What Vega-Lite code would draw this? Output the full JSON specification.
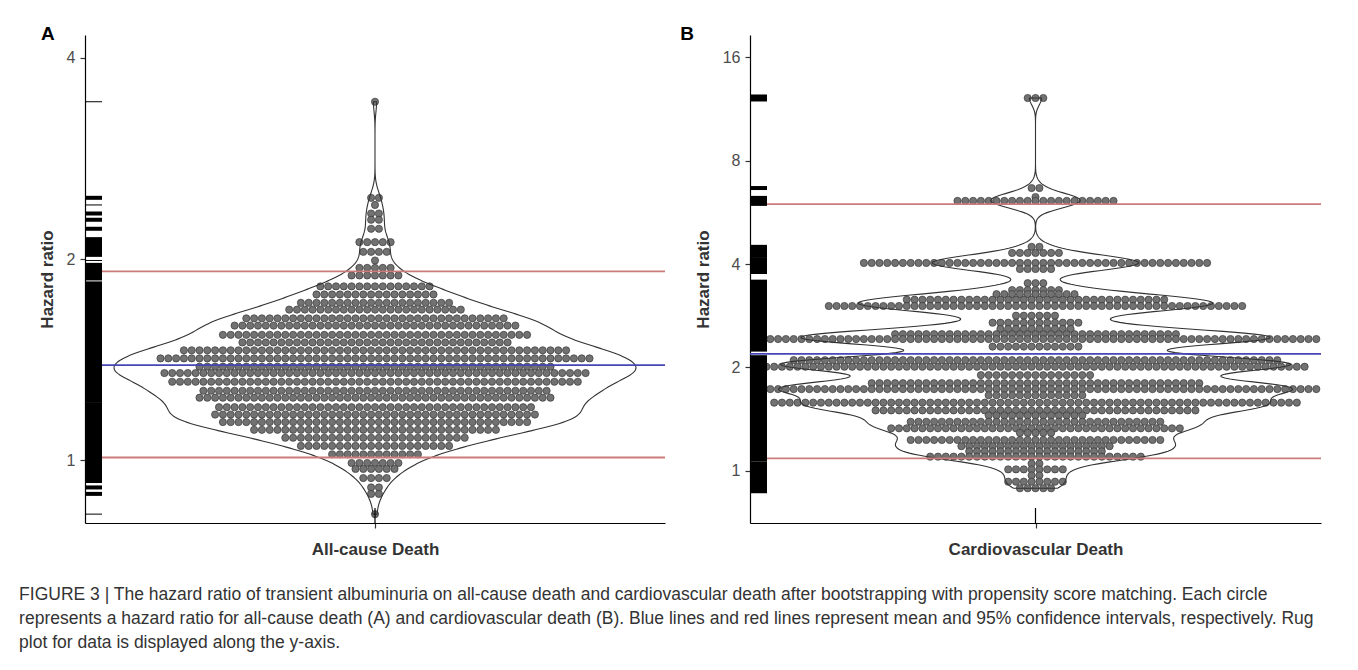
{
"$schema": "https://vega.github.io/schema/vega-lite/v6.json",
"padding": {"left": 19, "top": 25, "right": 5, "bottom": 5},
"datasets": {
"A": [3.44,2.47,2.47,2.41,2.34,2.34,2.29,2.29,2.22,2.22,
2.12,2.12,2.12,2.12,2.12,2.05,2.05,2.05,2.05,1.99,
1.94,1.94,1.94,1.94,1.94,1.89,1.89,1.89,1.89,1.89,1.89,1.89,
1.82,1.82,1.82,1.82,1.82,1.82,1.82,1.82,1.82,1.82,1.82,1.82,1.82,1.82,1.82,
1.77,1.77,1.77,1.77,1.77,1.77,1.77,1.77,1.77,1.77,1.77,1.77,1.77,1.77,1.77,1.77,
1.72,1.72,1.72,1.72,1.72,1.72,1.72,1.72,1.72,1.72,1.72,1.72,1.72,1.72,1.72,1.72,1.72,1.72,1.72,1.72,
1.68,1.68,1.68,1.68,1.68,1.68,1.68,1.68,1.68,1.68,1.68,1.68,1.68,1.68,1.68,1.68,1.68,1.68,1.68,1.68,1.68,1.68,1.68,
1.63,1.63,1.63,1.63,1.63,1.63,1.63,1.63,1.63,1.63,1.63,1.63,1.63,1.63,1.63,1.63,1.63,1.63,1.63,1.63,1.63,1.63,1.63,1.63,1.63,1.63,1.63,1.63,1.63,1.63,1.63,1.63,1.63,1.63,
1.59,1.59,1.59,1.59,1.59,1.59,1.59,1.59,1.59,1.59,1.59,1.59,1.59,1.59,1.59,1.59,1.59,1.59,1.59,1.59,1.59,1.59,1.59,1.59,1.59,1.59,1.59,1.59,1.59,1.59,1.59,1.59,1.59,1.59,1.59,1.59,1.59,
1.54,1.54,1.54,1.54,1.54,1.54,1.54,1.54,1.54,1.54,1.54,1.54,1.54,1.54,1.54,1.54,1.54,1.54,1.54,1.54,1.54,1.54,1.54,1.54,1.54,1.54,1.54,1.54,1.54,1.54,1.54,1.54,1.54,1.54,1.54,1.54,1.54,1.54,1.54,1.54,
1.5,1.5,1.5,1.5,1.5,1.5,1.5,1.5,1.5,1.5,1.5,1.5,1.5,1.5,1.5,1.5,1.5,1.5,1.5,1.5,1.5,1.5,1.5,1.5,1.5,1.5,1.5,1.5,1.5,1.5,1.5,1.5,1.5,1.5,1.5,
1.46,1.46,1.46,1.46,1.46,1.46,1.46,1.46,1.46,1.46,1.46,1.46,1.46,1.46,1.46,1.46,1.46,1.46,1.46,1.46,1.46,1.46,1.46,1.46,1.46,1.46,1.46,1.46,1.46,1.46,1.46,1.46,1.46,1.46,1.46,1.46,1.46,1.46,1.46,1.46,1.46,1.46,1.46,1.46,1.46,1.46,1.46,1.46,1.46,1.46,
1.42,1.42,1.42,1.42,1.42,1.42,1.42,1.42,1.42,1.42,1.42,1.42,1.42,1.42,1.42,1.42,1.42,1.42,1.42,1.42,1.42,1.42,1.42,1.42,1.42,1.42,1.42,1.42,1.42,1.42,1.42,1.42,1.42,1.42,1.42,1.42,1.42,1.42,1.42,1.42,1.42,1.42,1.42,1.42,1.42,1.42,1.42,1.42,1.42,1.42,1.42,1.42,1.42,1.42,1.42,1.42,
1.38,1.38,1.38,1.38,1.38,1.38,1.38,1.38,1.38,1.38,1.38,1.38,1.38,1.38,1.38,1.38,1.38,1.38,1.38,1.38,1.38,1.38,1.38,1.38,1.38,1.38,1.38,1.38,1.38,1.38,1.38,1.38,1.38,1.38,1.38,1.38,1.38,1.38,1.38,1.38,1.38,1.38,1.38,1.38,1.38,1.38,
1.35,1.35,1.35,1.35,1.35,1.35,1.35,1.35,1.35,1.35,1.35,1.35,1.35,1.35,1.35,1.35,1.35,1.35,1.35,1.35,1.35,1.35,1.35,1.35,1.35,1.35,1.35,1.35,1.35,1.35,1.35,1.35,1.35,1.35,1.35,1.35,1.35,1.35,1.35,1.35,1.35,1.35,1.35,1.35,1.35,1.35,1.35,1.35,1.35,1.35,1.35,1.35,1.35,1.35,1.35,
1.31,1.31,1.31,1.31,1.31,1.31,1.31,1.31,1.31,1.31,1.31,1.31,1.31,1.31,1.31,1.31,1.31,1.31,1.31,1.31,1.31,1.31,1.31,1.31,1.31,1.31,1.31,1.31,1.31,1.31,1.31,1.31,1.31,1.31,1.31,1.31,1.31,1.31,1.31,1.31,1.31,1.31,1.31,1.31,1.31,1.31,1.31,1.31,1.31,1.31,1.31,1.31,1.31,
1.27,1.27,1.27,1.27,1.27,1.27,1.27,1.27,1.27,1.27,1.27,1.27,1.27,1.27,1.27,1.27,1.27,1.27,1.27,1.27,1.27,1.27,1.27,1.27,1.27,1.27,1.27,1.27,1.27,1.27,1.27,1.27,1.27,1.27,1.27,1.27,1.27,1.27,1.27,1.27,1.27,1.27,1.27,1.27,1.27,
1.24,1.24,1.24,1.24,1.24,1.24,1.24,1.24,1.24,1.24,1.24,1.24,1.24,1.24,1.24,1.24,1.24,1.24,1.24,1.24,1.24,1.24,1.24,1.24,1.24,1.24,1.24,1.24,1.24,1.24,1.24,1.24,1.24,1.24,1.24,1.24,1.24,1.24,1.24,1.24,1.24,1.24,1.24,1.24,1.24,1.24,
1.2,1.2,1.2,1.2,1.2,1.2,1.2,1.2,1.2,1.2,1.2,1.2,1.2,1.2,1.2,1.2,1.2,1.2,1.2,1.2,1.2,1.2,1.2,1.2,1.2,1.2,1.2,1.2,1.2,1.2,1.2,1.2,1.2,1.2,1.2,1.2,1.2,1.2,1.2,1.2,1.2,
1.17,1.17,1.17,1.17,1.17,1.17,1.17,1.17,1.17,1.17,1.17,1.17,1.17,1.17,1.17,1.17,1.17,1.17,1.17,1.17,1.17,1.17,1.17,1.17,1.17,1.17,1.17,1.17,1.17,1.17,1.17,1.17,1.17,1.17,1.17,1.17,1.17,1.17,1.17,1.17,1.17,1.17,
1.14,1.14,1.14,1.14,1.14,1.14,1.14,1.14,1.14,1.14,1.14,1.14,1.14,1.14,1.14,1.14,1.14,1.14,1.14,1.14,1.14,1.14,1.14,1.14,1.14,1.14,1.14,1.14,1.14,1.14,1.14,1.14,1.14,1.14,1.14,1.14,1.14,1.14,1.14,1.14,
1.11,1.11,1.11,1.11,1.11,1.11,1.11,1.11,1.11,1.11,1.11,1.11,1.11,1.11,1.11,1.11,1.11,1.11,1.11,1.11,1.11,1.11,1.11,1.11,1.11,1.11,1.11,1.11,1.11,1.11,1.11,1.11,
1.08,1.08,1.08,1.08,1.08,1.08,1.08,1.08,1.08,1.08,1.08,1.08,1.08,1.08,1.08,1.08,1.08,1.08,1.08,1.08,1.08,1.08,1.08,1.08,
1.05,1.05,1.05,1.05,1.05,1.05,1.05,1.05,1.05,1.05,1.05,1.05,1.05,1.05,1.05,1.05,1.05,1.05,1.05,1.05,
1.02,1.02,1.02,1.02,1.02,1.02,1.02,1.02,1.02,1.02,1.02,1.02,
0.99,0.99,0.99,0.99,0.99,0.99,0.99,0.97,0.97,0.97,0.97,0.97,0.97,
0.94,0.94,0.94,0.94,0.91,0.91,0.89,0.89,0.83],
"B": [12.18,12.18,12.18,6.66,6.66,6.27,
6.11,6.11,6.11,6.11,6.11,6.11,6.11,6.11,6.11,6.11,6.11,6.11,6.11,6.11,6.11,6.11,6.11,6.11,6.11,6.11,6.11,
4.49,4.49,4.31,4.31,4.31,4.31,4.31,4.31,4.31,
4.03,4.03,4.03,4.03,4.03,4.03,4.03,4.03,4.03,4.03,4.03,4.03,4.03,4.03,4.03,4.03,4.03,4.03,4.03,4.03,4.03,4.03,4.03,4.03,4.03,4.03,4.03,4.03,4.03,4.03,4.03,4.03,4.03,4.03,4.03,4.03,4.03,4.03,4.03,4.03,4.03,4.03,4.03,4.03,4.03,
3.87,3.87,3.87,3.87,3.87,3.52,3.52,3.52,
3.36,3.36,3.36,3.36,3.36,3.36,3.36,
3.27,3.27,3.27,3.27,3.27,3.27,3.27,3.27,3.27,3.27,3.27,
3.15,3.15,3.15,3.15,3.15,3.15,3.15,3.15,3.15,3.15,3.15,3.15,3.15,3.15,3.15,3.15,3.15,3.15,3.15,3.15,3.15,3.15,3.15,3.15,3.15,3.15,3.15,3.15,3.15,3.15,3.15,3.15,3.15,3.15,
3.02,3.02,3.02,3.02,3.02,3.02,3.02,3.02,3.02,3.02,3.02,3.02,3.02,3.02,3.02,3.02,3.02,3.02,3.02,3.02,3.02,3.02,3.02,3.02,3.02,3.02,3.02,3.02,3.02,3.02,3.02,3.02,3.02,3.02,3.02,3.02,3.02,3.02,3.02,3.02,3.02,3.02,3.02,3.02,3.02,3.02,3.02,3.02,3.02,3.02,3.02,3.02,3.02,3.02,
2.83,2.83,2.83,2.83,2.83,2.83,
2.7,2.7,2.7,2.7,2.7,2.7,2.7,2.7,2.7,2.7,2.7,2.7,
2.59,2.59,2.59,2.59,2.59,2.59,2.59,2.59,2.59,2.59,
2.5,2.5,2.5,2.5,2.5,2.5,2.5,2.5,2.5,2.5,2.5,2.5,2.5,2.5,2.5,2.5,2.5,2.5,2.5,2.5,2.5,2.5,2.5,2.5,2.5,2.5,2.5,2.5,2.5,2.5,2.5,2.5,2.5,2.5,2.5,2.5,2.5,
2.42,2.42,2.42,2.42,2.42,2.42,2.42,2.42,2.42,2.42,2.42,2.42,2.42,2.42,2.42,2.42,2.42,2.42,2.42,2.42,2.42,2.42,2.42,2.42,2.42,2.42,2.42,2.42,2.42,2.42,2.42,2.42,2.42,2.42,2.42,2.42,2.42,2.42,2.42,2.42,2.42,2.42,2.42,2.42,2.42,2.42,2.42,2.42,2.42,2.42,2.42,2.42,2.42,2.42,2.42,2.42,2.42,2.42,2.42,2.42,2.42,2.42,2.42,2.42,2.42,2.42,2.42,2.42,2.42,2.42,2.42,2.42,2.42,
2.3,2.3,2.3,2.3,2.3,2.3,2.3,2.3,2.3,2.3,2.3,2.3,
2.1,2.1,2.1,2.1,2.1,2.1,2.1,2.1,2.1,2.1,2.1,2.1,2.1,2.1,2.1,2.1,2.1,2.1,2.1,2.1,2.1,2.1,2.1,2.1,2.1,2.1,2.1,2.1,2.1,2.1,2.1,2.1,2.1,2.1,2.1,2.1,2.1,2.1,2.1,2.1,2.1,2.1,2.1,2.1,2.1,2.1,2.1,2.1,2.1,2.1,2.1,2.1,2.1,2.1,2.1,2.1,2.1,2.1,2.1,2.1,2.1,2.1,2.1,
2.01,2.01,2.01,2.01,2.01,2.01,2.01,2.01,2.01,2.01,2.01,2.01,2.01,2.01,2.01,2.01,2.01,2.01,2.01,2.01,2.01,2.01,2.01,2.01,2.01,2.01,2.01,2.01,2.01,2.01,2.01,2.01,2.01,2.01,2.01,2.01,2.01,2.01,2.01,2.01,2.01,2.01,2.01,2.01,2.01,2.01,2.01,2.01,2.01,2.01,2.01,2.01,2.01,2.01,2.01,2.01,2.01,2.01,2.01,2.01,2.01,2.01,2.01,2.01,2.01,2.01,2.01,2.01,2.01,2.01,
1.9,1.9,1.9,1.9,1.9,1.9,1.9,1.9,1.9,1.9,1.9,1.9,1.9,1.9,1.9,
1.8,1.8,1.8,1.8,1.8,1.8,1.8,1.8,1.8,1.8,1.8,1.8,1.8,1.8,1.8,1.8,1.8,1.8,1.8,1.8,1.8,1.8,1.8,1.8,1.8,1.8,1.8,1.8,1.8,1.8,1.8,1.8,1.8,1.8,1.8,1.8,1.8,1.8,1.8,1.8,1.8,1.8,1.8,
1.73,1.73,1.73,1.73,1.73,1.73,1.73,1.73,1.73,1.73,1.73,1.73,1.73,1.73,1.73,1.73,1.73,1.73,1.73,1.73,1.73,1.73,1.73,1.73,1.73,1.73,1.73,1.73,1.73,1.73,1.73,1.73,1.73,1.73,1.73,1.73,1.73,1.73,1.73,1.73,1.73,1.73,1.73,1.73,1.73,1.73,1.73,1.73,1.73,1.73,1.73,1.73,1.73,1.73,1.73,1.73,1.73,1.73,1.73,1.73,1.73,1.73,1.73,1.73,1.73,1.73,1.73,1.73,1.73,1.73,1.73,1.73,1.73,
1.66,1.66,1.66,1.66,1.66,1.66,1.66,1.66,1.66,1.66,1.66,1.66,1.66,
1.58,1.58,1.58,1.58,1.58,1.58,1.58,1.58,1.58,1.58,1.58,1.58,1.58,1.58,1.58,1.58,1.58,1.58,1.58,1.58,1.58,1.58,1.58,1.58,1.58,1.58,1.58,1.58,1.58,1.58,1.58,1.58,1.58,1.58,1.58,1.58,1.58,1.58,1.58,1.58,1.58,1.58,1.58,1.58,1.58,1.58,1.58,1.58,1.58,1.58,1.58,1.58,1.58,1.58,1.58,1.58,1.58,1.58,1.58,1.58,1.58,1.58,1.58,1.58,1.58,1.58,1.58,1.58,
1.5,1.5,1.5,1.5,1.5,1.5,1.5,1.5,1.5,1.5,1.5,1.5,1.5,1.5,1.5,1.5,1.5,1.5,1.5,1.5,1.5,1.5,1.5,1.5,1.5,1.5,1.5,1.5,1.5,1.5,1.5,1.5,1.5,1.5,1.5,1.5,1.5,1.5,1.5,1.5,1.5,1.5,
1.45,1.45,1.45,1.45,1.45,1.45,1.45,1.45,1.45,1.45,1.45,1.45,1.45,
1.39,1.39,1.39,1.39,1.39,1.39,1.39,1.39,1.39,1.39,1.39,1.39,1.39,1.39,1.39,1.39,1.39,1.39,1.39,1.39,1.39,1.39,1.39,1.39,1.39,1.39,1.39,1.39,1.39,1.39,1.39,1.39,1.39,
1.33,1.33,1.33,1.33,1.33,1.33,1.33,1.33,1.33,1.33,1.33,1.33,1.33,1.33,1.33,1.33,1.33,1.33,1.33,1.33,1.33,1.33,1.33,1.33,1.33,1.33,1.33,1.33,1.33,1.33,1.33,1.33,1.33,1.33,1.33,1.33,1.33,1.33,
1.29,1.29,1.29,1.29,1.29,
1.23,1.23,1.23,1.23,1.23,1.23,1.23,1.23,1.23,1.23,1.23,1.23,1.23,1.23,1.23,1.23,1.23,1.23,1.23,1.23,1.23,1.23,1.23,1.23,1.23,1.23,1.23,1.23,1.23,1.23,1.23,1.23,1.23,
1.18,1.18,1.18,1.18,1.18,1.18,1.18,1.18,1.18,1.18,1.18,1.18,1.18,1.18,1.18,1.18,1.18,1.18,1.18,1.18,
1.14,1.14,1.14,1.14,1.14,1.14,1.14,1.14,1.14,1.14,1.14,1.14,1.14,1.14,1.14,1.14,1.14,1.14,
1.1,1.1,1.1,1.1,1.1,1.1,1.1,1.1,1.1,1.1,1.1,1.1,1.1,1.1,1.1,1.1,1.1,1.1,1.1,1.1,1.1,1.1,1.1,1.1,1.1,1.1,1.1,1.1,
1.05,1.05,1.01,1.01,1.01,1.01,1.01,1.01,1.01,1.01,0.97,0.97,
0.93,0.93,0.93,0.93,0.93,0.93,0.93,0.93,0.89,0.89,0.89,0.89,0.89],
"stats": [
{"p": "A", "k": "ci", "v": 1.917}, {"p": "A", "k": "ci", "v": 1.009}, {"p": "A", "k": "mean", "v": 1.387},
{"p": "B", "k": "ci", "v": 5.98}, {"p": "B", "k": "ci", "v": 1.088}, {"p": "B", "k": "mean", "v": 2.19}]
},
"title": {
"text": ["FIGURE 3 | The hazard ratio of transient albuminuria on all-cause death and cardiovascular death after bootstrapping with propensity score matching. Each circle", "represents a hazard ratio for all-cause death (A) and cardiovascular death (B). Blue lines and red lines represent mean and 95% confidence intervals, respectively. Rug", "plot for data is displayed along the y-axis."],
"orient": "bottom", "anchor": "start", "frame": "bounds", "font": "Liberation Sans", "fontSize": 17.5, "fontWeight": "normal", "color": "#333333", "lineHeight": 24, "offset": 28, "dx": -19
},
"spacing": 14,
"hconcat": [
{
"width": 580, "height": 488,
"title": {"text": "A", "anchor": "start", "frame": "bounds", "fontSize": 19, "fontWeight": "bold", "color": "#000000", "offset": -9, "dx": 3},
"data": {"name": "A"},
"transform": [{"calculate": "datum.data", "as": "hr"}],
"layer": [
{"transform": [
{"window": [{"op": "row_number", "as": "rn"}], "groupby": ["hr"]},
{"joinaggregate": [{"op": "count", "as": "n"}], "groupby": ["hr"]},
{"calculate": "datum.rn - (datum.n + 1) / 2", "as": "off"}],
"mark": {"type": "circle", "size": 52, "color": "#727272", "stroke": "#3a3a3a", "strokeWidth": 0.7, "opacity": 1},
"encoding": {
"x": {"field": "off", "type": "quantitative", "scale": {"domain": [-37.18, 37.18]}, "axis": {"values": [0], "labels": false, "title": "All-cause Death", "titlePadding": 13}},
"y": {"field": "hr", "type": "quantitative", "scale": {"type": "log", "domain": [0.805, 4.33]}, "axis": {"values": [1, 2, 4], "format": "d", "title": "Hazard ratio"}}}},
{"transform": [
{"calculate": "log(datum.hr) / LN2", "as": "l2"},
{"density": "l2", "bandwidth": 0.05, "steps": 400, "as": ["lv", "d"]},
{"joinaggregate": [{"op": "max", "field": "d", "as": "dm"}]},
{"calculate": "pow(2, datum.lv)", "as": "yv"},
{"calculate": "33.46 * datum.d / datum.dm", "as": "w"},
{"calculate": "-datum.w", "as": "wn"}],
"mark": {"type": "area", "orient": "horizontal", "fillOpacity": 0, "stroke": "#333333", "strokeWidth": 1.1},
"encoding": {
"y": {"field": "yv", "type": "quantitative", "scale": {"type": "log", "domain": [0.805, 4.33]}},
"x": {"field": "w", "type": "quantitative", "scale": {"domain": [-37.18, 37.18]}},
"x2": {"field": "wn"}}},
{"data": {"name": "stats"}, "transform": [{"filter": "datum.p == 'A'"}],
"mark": {"type": "rule", "strokeWidth": 1.8},
"encoding": {"y": {"field": "v", "type": "quantitative", "scale": {"type": "log", "domain": [0.805, 4.33]}},
"color": {"field": "k", "type": "nominal", "scale": {"domain": ["ci", "mean"], "range": ["#cc7a7a", "#4646b4"]}, "legend": null}}},
{"transform": [{"aggregate": [{"op": "count", "as": "n"}], "groupby": ["hr"]}],
"mark": {"type": "rule", "color": "#000000"},
"encoding": {"y": {"field": "hr", "type": "quantitative", "scale": {"type": "log", "domain": [0.805, 4.33]}}, "x": {"datum": -37.18, "scale": {"domain": [-37.18, 37.18]}}, "x2": {"datum": -35.0},
"strokeWidth": {"field": "n", "type": "quantitative", "scale": {"domain": [1, 4], "range": [1, 10], "clamp": true}, "legend": null}}},
{"transform": [{"aggregate": [{"op": "count", "as": "n"}]}],
"mark": {"type": "rule", "color": "#000000", "strokeWidth": 1.2},
"encoding": {"x": {"datum": 0, "scale": {"domain": [-37.18, 37.18]}}, "y": {"datum": 0.805, "scale": {"type": "log", "domain": [0.805, 4.33]}}, "y2": {"datum": 0.8476}}}
]
},
{
"width": 571, "height": 488,
"title": {"text": "B", "anchor": "start", "frame": "bounds", "fontSize": 19, "fontWeight": "bold", "color": "#000000", "offset": -9, "dx": -14},
"data": {"name": "B"},
"transform": [{"calculate": "datum.data", "as": "hr"}],
"layer": [
{"transform": [
{"window": [{"op": "row_number", "as": "rn"}], "groupby": ["hr"]},
{"joinaggregate": [{"op": "count", "as": "n"}], "groupby": ["hr"]},
{"calculate": "datum.rn - (datum.n + 1) / 2", "as": "off"}],
"mark": {"type": "circle", "size": 52, "color": "#727272", "stroke": "#3a3a3a", "strokeWidth": 0.7, "opacity": 1},
"encoding": {
"x": {"field": "off", "type": "quantitative", "scale": {"domain": [-36.6, 36.6]}, "axis": {"values": [0], "labels": false, "title": "Cardiovascular Death", "titlePadding": 13}},
"y": {"field": "hr", "type": "quantitative", "scale": {"type": "log", "domain": [0.705, 18.58]}, "axis": {"values": [1, 2, 4, 8, 16], "format": "d", "title": "Hazard ratio"}}}},
{"transform": [
{"calculate": "log(datum.hr) / LN2", "as": "l2"},
{"density": "l2", "bandwidth": 0.07, "steps": 400, "as": ["lv", "d"]},
{"joinaggregate": [{"op": "max", "field": "d", "as": "dm"}]},
{"calculate": "pow(2, datum.lv)", "as": "yv"},
{"calculate": "32.94 * datum.d / datum.dm", "as": "w"},
{"calculate": "-datum.w", "as": "wn"}],
"mark": {"type": "area", "orient": "horizontal", "fillOpacity": 0, "stroke": "#333333", "strokeWidth": 1.1},
"encoding": {
"y": {"field": "yv", "type": "quantitative", "scale": {"type": "log", "domain": [0.705, 18.58]}},
"x": {"field": "w", "type": "quantitative", "scale": {"domain": [-36.6, 36.6]}},
"x2": {"field": "wn"}}},
{"data": {"name": "stats"}, "transform": [{"filter": "datum.p == 'B'"}],
"mark": {"type": "rule", "strokeWidth": 1.8},
"encoding": {"y": {"field": "v", "type": "quantitative", "scale": {"type": "log", "domain": [0.705, 18.58]}},
"color": {"field": "k", "type": "nominal", "scale": {"domain": ["ci", "mean"], "range": ["#cc7a7a", "#4646b4"]}, "legend": null}}},
{"transform": [{"aggregate": [{"op": "count", "as": "n"}], "groupby": ["hr"]}],
"mark": {"type": "rule", "color": "#000000"},
"encoding": {"y": {"field": "hr", "type": "quantitative", "scale": {"type": "log", "domain": [0.705, 18.58]}}, "x": {"datum": -36.6, "scale": {"domain": [-36.6, 36.6]}}, "x2": {"datum": -34.42},
"strokeWidth": {"field": "n", "type": "quantitative", "scale": {"domain": [1, 4], "range": [1, 10], "clamp": true}, "legend": null}}},
{"transform": [{"aggregate": [{"op": "count", "as": "n"}]}],
"mark": {"type": "rule", "color": "#000000", "strokeWidth": 1.2},
"encoding": {"x": {"datum": 0, "scale": {"domain": [-36.6, 36.6]}}, "y": {"datum": 0.705, "scale": {"type": "log", "domain": [0.705, 18.58]}}, "y2": {"datum": 0.7797}}}
]
}
],
"config": {
"font": "Liberation Sans",
"view": {"stroke": null},
"axis": {"grid": false, "domainColor": "#000000", "domainWidth": 1.2, "tickColor": "#333333", "tickWidth": 1.2, "tickSize": 5, "labelColor": "#4d4d4d", "labelFontSize": 16, "labelPadding": 5, "titleFontSize": 17, "titleFontWeight": "bold", "titleColor": "#333333", "titlePadding": 10}
}
}
